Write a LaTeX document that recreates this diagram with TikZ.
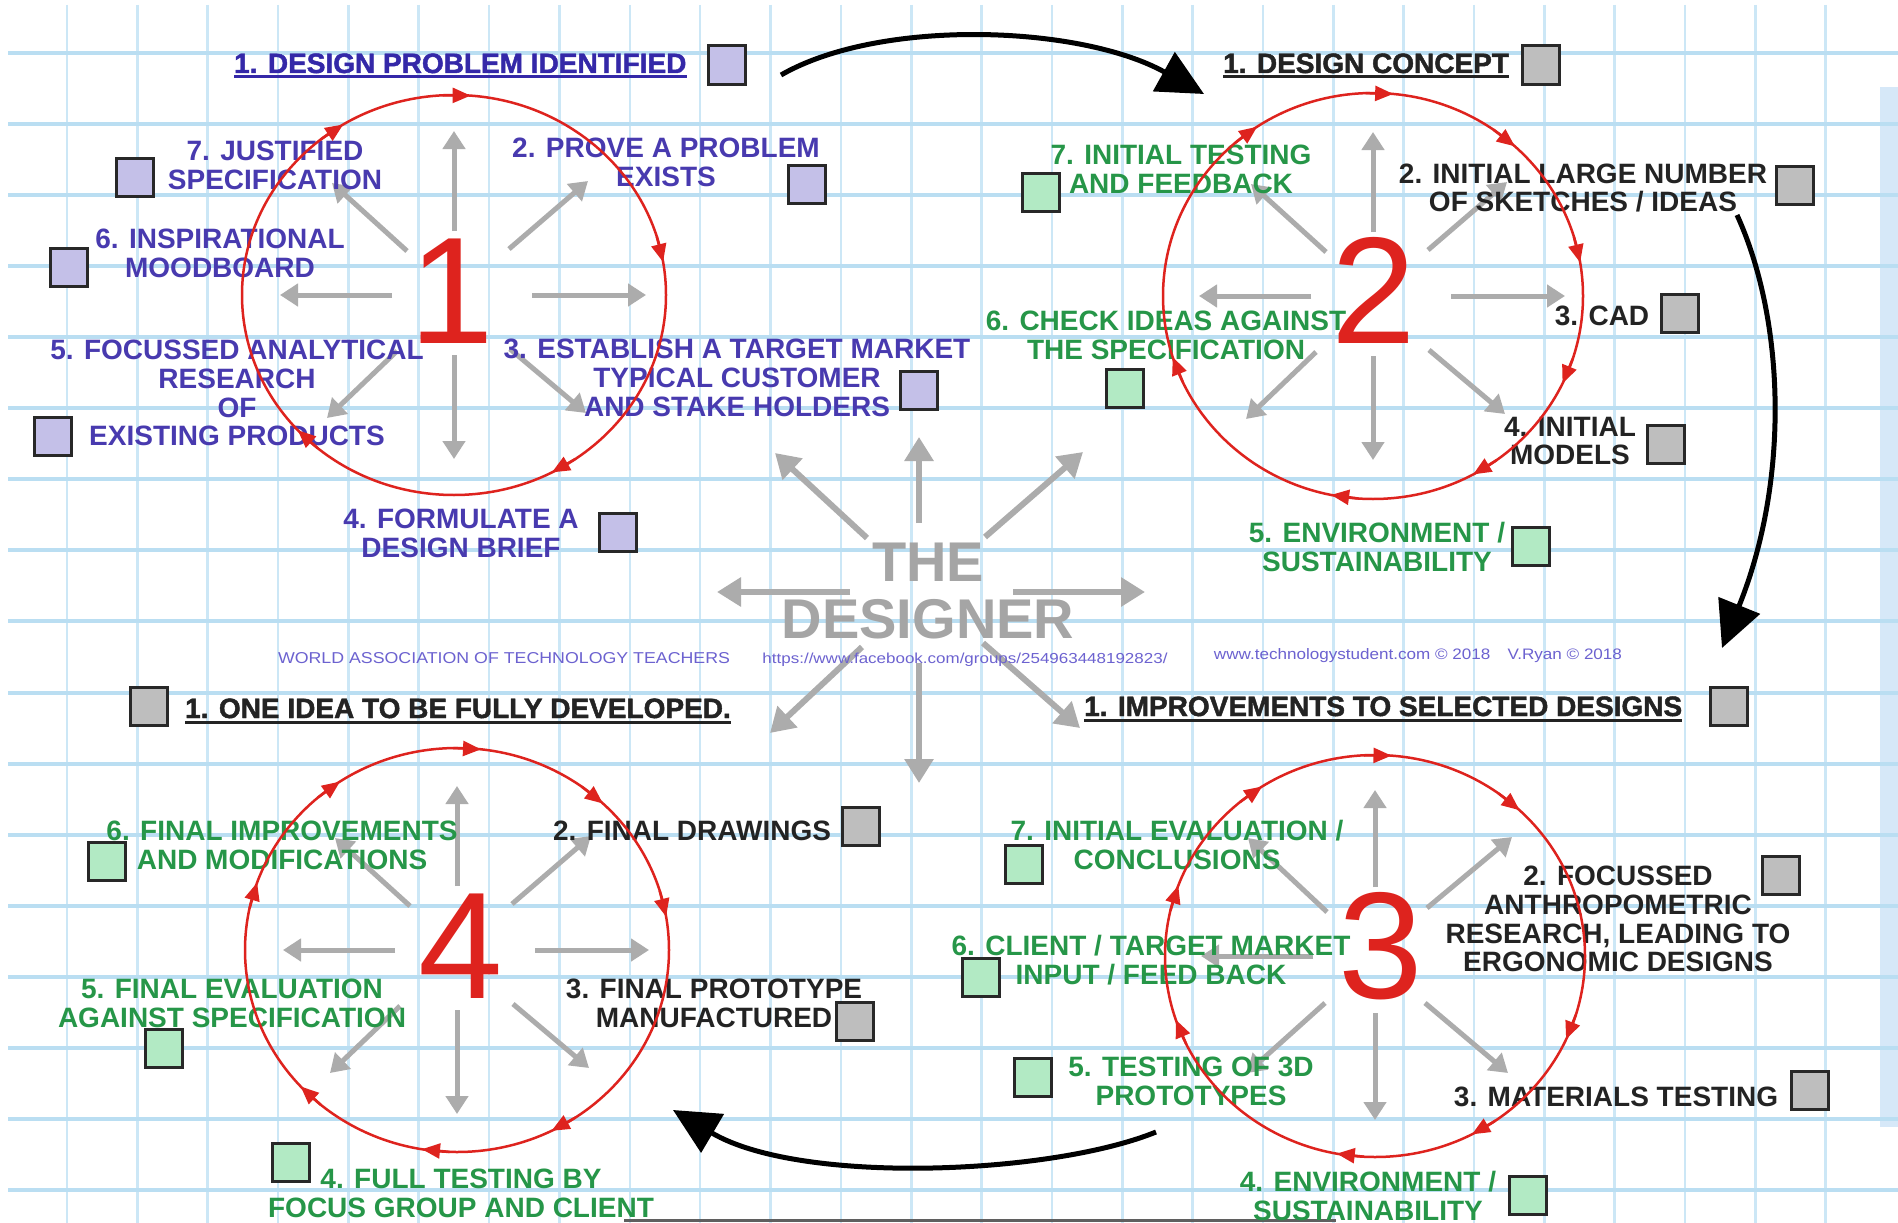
\documentclass[tikz,border=0pt]{standalone}
\usepackage{fontspec}
\usepackage{graphicx}
\setmainfont{Liberation Sans}
\newfontfamily\ttlfont{Liberation Sans Bold}[FakeBold=1.6]
\usetikzlibrary{arrows.meta,calc}
\definecolor{bluetxt}{RGB}{72,58,175}
\definecolor{bluetitle}{RGB}{52,40,168}
\definecolor{greentxt}{RGB}{38,150,72}
\definecolor{blacktxt}{RGB}{35,35,35}
\definecolor{lavfill}{RGB}{196,192,232}
\definecolor{grayfill}{RGB}{190,190,190}
\definecolor{mintfill}{RGB}{178,234,196}
\definecolor{boxline}{RGB}{40,40,40}
\definecolor{redc}{RGB}{222,35,30}
\definecolor{spokegray}{RGB}{172,172,172}
\definecolor{desgray}{RGB}{165,165,165}
\definecolor{gridh}{RGB}{186,222,242}
\definecolor{gridv}{RGB}{204,231,246}
\definecolor{footc}{RGB}{108,98,208}
\definecolor{bandc}{RGB}{214,232,248}
\definecolor{edgec}{RGB}{95,95,95}
\tikzset{
  lab/.style={font=\bfseries\fontsize{28}{28.8}\selectfont, align=center, inner sep=0pt},
  btxt/.style={lab, text=bluetxt},
  gtxt/.style={lab, text=greentxt},
  ktxt/.style={lab, text=blacktxt},
  ttl/.style={font=\ttlfont\fontsize{28}{28.8}\selectfont, inner sep=0pt, anchor=base west},
  sq/.style={draw=boxline, line width=3pt, minimum width=37pt, minimum height=38pt, inner sep=0pt},
  sqb/.style={sq, fill=lavfill},
  sqg/.style={sq, fill=grayfill},
  sqm/.style={sq, fill=mintfill},
  digit/.style={font=\fontsize{152}{152}\selectfont, text=redc, inner sep=0pt},
  spoke/.style={draw=spokegray, line width=5pt, -{Triangle[length=18pt,width=22pt]}},
  bigspoke/.style={draw=spokegray, line width=6pt, -{Triangle[length=24pt,width=28pt]}},
  ring/.style={draw=redc, line width=2.5pt},
  rarrow/.style={draw=redc, line width=2.5pt, -{Triangle[length=18pt,width=15pt]}},
  flow/.style={draw=black, line width=5pt, -{Triangle[length=46pt,width=44pt]}},
  des/.style={font=\bfseries\fontsize{56}{56}\selectfont, text=desgray, inner sep=0pt},
  foot/.style={text=footc, inner sep=0pt, font=\fontsize{14}{14}\selectfont},
  uline/.style={line width=3pt},
  hgrid/.style={draw=gridh, line width=4pt},
  vgrid/.style={draw=gridv, line width=2.6pt}
}
\newcommand\drawspokes[2]{%
  \foreach \ax/\ay/\bx/\by in #2
    \draw[spoke] ($(#1)+(\ax,\ay)$) -- ($(#1)+(\bx,\by)$);}
\newcommand\ringarrows[5]{%
  \foreach \t in {#5}
    \draw[rarrow] ({#1+#3*cos(\t+5)},{#2-#4*sin(\t+5)}) -- ({#1+#3*cos(\t-2.5)},{#2-#4*sin(\t-2.5)});}
\newcommand\allspokes{0/-64/0/-164,0/60/0/164,-62/0/-174/0,78/0/192/0,55/-46/134/-114,-47/-44/-122/-112,-57/56/-127/123,56/54/132/118}
\newcommand\threespokes{0/-69/0/-166,0/57/0/164,-62/0/-174/0,52/-48/137/-119,-48/-44/-127/-118,-50/47/-128/117,50/47/133/117}
\newcommand\centrespokes{0/-69/0/-155,0/71/0/191,-69/0/-202/0,94/0/226/0,-52/-54/-144/-139,66/-55/164/-140,-57/55/-149/141,64/51/161/136}
\begin{document}
\begin{tikzpicture}[x=1pt,y=-1pt]
\useasboundingbox (0,0) rectangle (1898,1223);
\fill[white] (0,0) rectangle (1898,1223);
\fill[bandc] (1880,87) rectangle (1898,1127);
% grid
\foreach \i in {0,...,25} \draw[vgrid] ({67+70.35*\i},5) -- ({67+70.35*\i},1223);
\foreach \j in {0,...,16} \draw[hgrid] (8,{53+71.06*\j}) -- (1898,{53+71.06*\j});
\draw[line width=3pt, draw=edgec] (624,1220) -- (1336,1220);

% centres
\coordinate (c1) at (454,295);
\coordinate (c2) at (1373,296);
\coordinate (c3) at (1375,956);
\coordinate (c4) at (457,950);
\coordinate (dc) at (919,592);

% spokes
\drawspokes{c1}{\allspokes}
\drawspokes{c2}{\allspokes}
\drawspokes{c3}{\threespokes}
\drawspokes{c4}{\allspokes}

% centre arrows
\foreach \ax/\ay/\bx/\by in \centrespokes
  \draw[bigspoke] ($(dc)+(\ax,\ay)$) -- ($(dc)+(\bx,\by)$);
\node[des] (the) at (928,562) {THE};
\node[des] (designer) at (928,619) {DESIGNER};

% footers
\node[foot] (wa) at (504,658) {\resizebox{452pt}{11pt}{WORLD ASSOCIATION OF TECHNOLOGY TEACHERS}};
\node[foot] (fb) at (965,660) {\resizebox{405pt}{10.5pt}{https://www.facebook.com/groups/254963448192823/}};
\node[foot] (ts) at (1418,656) {\resizebox{408pt}{11pt}{www.technologystudent.com © 2018\quad V.Ryan © 2018}};

% digits
\node[digit] (d1) at (452,291) {1};
\node[digit] (d2) at (1374,290) {2};
\node[digit] (d3) at (1381,946) {3};
\node[digit] (d4) at (461,946) {4};

% ---------------- cluster 1 ----------------
\node[ttl, text=bluetitle] (t1) at (234,73) {1. DESIGN PROBLEM IDENTIFIED};
\draw[uline, draw=bluetitle] ($(t1.base west)+(0,4)$) -- ($(t1.base east)+(0,4)$);
\node[sqb] (t1b) at (727,65) {};
\node[btxt] (a7) at (275,165) {7. JUSTIFIED\\SPECIFICATION};
\node[sqb] (a7b) at (135,177) {};
\node[btxt] (a6) at (220,253) {6. INSPIRATIONAL\\MOODBOARD};
\node[sqb] (a6b) at (69,267) {};
\node[btxt] (a2) at (666,162) {2. PROVE A PROBLEM\\EXISTS};
\node[sqb] (a2b) at (807,184) {};
\node[btxt] (a3) at (737,378) {3. ESTABLISH A TARGET MARKET\\TYPICAL CUSTOMER\\AND STAKE HOLDERS};
\node[sqb] (a3b) at (919,390) {};
\node[btxt] (a5) at (237,393) {5. FOCUSSED ANALYTICAL\\RESEARCH\\OF\\EXISTING PRODUCTS};
\node[sqb] (a5b) at (53,436) {};
\node[btxt] (a4) at (461,533) {4. FORMULATE A\\DESIGN BRIEF};
\node[sqb] (a4b) at (618,532) {};

% ---------------- cluster 2 ----------------
\node[ttl, text=blacktxt] (t2) at (1223,73) {1. DESIGN CONCEPT};
\draw[uline, draw=blacktxt] ($(t2.base west)+(0,4)$) -- ($(t2.base east)+(0,4)$);
\node[sqg] (t2b) at (1541,65) {};
\node[gtxt] (b7) at (1181,169) {7. INITIAL TESTING\\AND FEEDBACK};
\node[sqm] (b7b) at (1041,192) {};
\node[ktxt] (b2) at (1583,188) {2. INITIAL LARGE NUMBER\\OF SKETCHES / IDEAS};
\node[sqg] (b2b) at (1795,185) {};
\node[ktxt] (b3) at (1602,316) {3. CAD};
\node[sqg] (b3b) at (1680,313) {};
\node[ktxt] (b4) at (1570,441) {4. INITIAL\\MODELS};
\node[sqg] (b4b) at (1666,444) {};
\node[gtxt] (b5) at (1377,547) {5. ENVIRONMENT /\\SUSTAINABILITY};
\node[sqm] (b5b) at (1531,546) {};
\node[gtxt] (b6) at (1166,335) {6. CHECK IDEAS AGAINST\\THE SPECIFICATION};
\node[sqm] (b6b) at (1125,388) {};

% ---------------- cluster 3 ----------------
\node[ttl, text=blacktxt] (t3) at (1084,716) {1. IMPROVEMENTS TO SELECTED DESIGNS};
\draw[uline, draw=blacktxt] ($(t3.base west)+(0,4)$) -- ($(t3.base east)+(0,4)$);
\node[sqg] (t3b) at (1729,706) {};
\node[gtxt] (e7) at (1177,845) {7. INITIAL EVALUATION /\\CONCLUSIONS};
\node[sqm] (e7b) at (1024,864) {};
\node[gtxt] (e6) at (1151,960) {6. CLIENT / TARGET MARKET\\INPUT / FEED BACK};
\node[sqm] (e6b) at (981,977) {};
\node[ktxt] (e2) at (1618,919) {2. FOCUSSED\\ANTHROPOMETRIC\\RESEARCH, LEADING TO\\ERGONOMIC DESIGNS};
\node[sqg] (e2b) at (1781,875) {};
\node[ktxt] (e3) at (1616,1097) {3. MATERIALS TESTING};
\node[sqg] (e3b) at (1810,1090) {};
\node[gtxt] (e5) at (1191,1081) {5. TESTING OF 3D\\PROTOTYPES};
\node[sqm] (e5b) at (1033,1077) {};
\node[gtxt] (e4) at (1368,1196) {4. ENVIRONMENT /\\SUSTAINABILITY};
\node[sqm] (e4b) at (1528,1195) {};

% ---------------- cluster 4 ----------------
\node[ttl, text=blacktxt] (t4) at (185,718) {1. ONE IDEA TO BE FULLY DEVELOPED.};
\draw[uline, draw=blacktxt] ($(t4.base west)+(0,4)$) -- ($(t4.base east)+(0,4)$);
\node[sqg] (t4b) at (149,706) {};
\node[gtxt] (f6) at (282,845) {6. FINAL IMPROVEMENTS\\AND MODIFICATIONS};
\node[sqm] (f6b) at (107,861) {};
\node[ktxt] (f2) at (692,831) {2. FINAL DRAWINGS};
\node[sqg] (f2b) at (861,826) {};
\node[ktxt] (f3) at (714,1003) {3. FINAL PROTOTYPE\\MANUFACTURED};
\node[sqg] (f3b) at (855,1021) {};
\node[gtxt] (f5) at (232,1003) {5. FINAL EVALUATION\\AGAINST SPECIFICATION};
\node[sqm] (f5b) at (164,1048) {};
\node[gtxt] (f4) at (461,1193) {4. FULL TESTING BY\\FOCUS GROUP AND CLIENT};
\node[sqm] (f4b) at (291,1162) {};

% red rings
\draw[ring] (c1) ellipse [x radius=212pt, y radius=200pt];
\draw[ring] (c2) ellipse [x radius=210pt, y radius=203pt];
\draw[ring] (c3) ellipse [x radius=210pt, y radius=201pt];
\draw[ring] (c4) ellipse [x radius=212pt, y radius=202pt];
\ringarrows{454}{295}{212}{200}{88,124,12,-60,-135}
\ringarrows{1373}{296}{210}{203}{87,126,50,12,-23,-59,-99,200}
\ringarrows{1375}{956}{210}{201}{88,125,162,201,-98,-60,-22,49}
\ringarrows{457}{950}{212}{202}{86,126,49,12,-61,-97,225,163}

% flow arrows between stages
\coordinate (s1) at (781,75);
\coordinate (s2) at (1204,94);
\coordinate (s3) at (1737,215);
\coordinate (s4) at (1722,648);
\coordinate (s5) at (1156,1132);
\coordinate (s6) at (673,1110);
\draw[flow] (s1) .. controls (880,18) and (1080,25) .. (s2);
\draw[flow] (s3) .. controls (1785,320) and (1790,480) .. (s4);
\draw[flow] (s5) .. controls (1050,1175) and (800,1185) .. (s6);
\end{tikzpicture}
\end{document}
